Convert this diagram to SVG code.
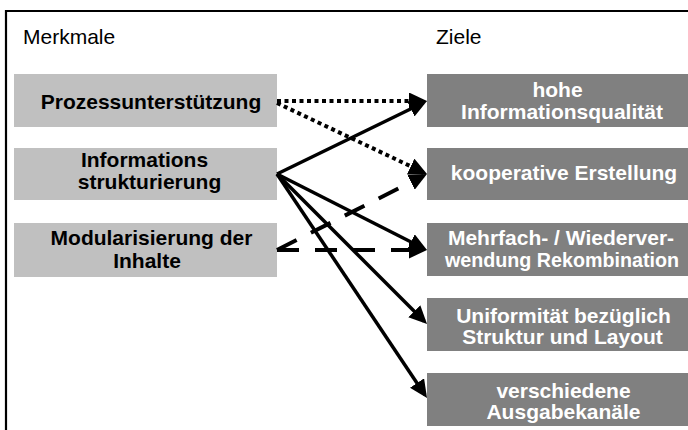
<svg xmlns="http://www.w3.org/2000/svg" width="688" height="430" viewBox="0 0 688 430">
<defs>
<style>
.frame{stroke:#000;stroke-width:2.2;fill:none}
.lbox{fill:#c0c0c0}
.rbox{fill:#808080}
.hdr{font-family:"Liberation Sans",Arial,sans-serif;font-size:21px;fill:#000}
.lt{font-family:"Liberation Sans",Arial,sans-serif;font-size:21px;font-weight:bold;fill:#000;text-anchor:middle}
.rt{font-family:"Liberation Sans",Arial,sans-serif;font-size:21px;font-weight:bold;fill:#fff;text-anchor:middle}
.solid{stroke:#000;stroke-width:3.5;fill:none;marker-end:url(#ah)}
.dot{stroke:#000;stroke-width:4;fill:none;stroke-dasharray:4 3.5;marker-end:url(#ah)}
.dash{stroke:#000;stroke-width:4;fill:none;stroke-dasharray:22 16;marker-end:url(#ah)}
</style>
<marker id="ah" viewBox="0 0 18 17" refX="14" refY="8.5" markerWidth="18" markerHeight="17" markerUnits="userSpaceOnUse" orient="auto">
<path d="M0,0 L18,8.5 L0,17 z" fill="#000"/>
</marker>
</defs>
<rect width="688" height="430" fill="#fff"/>
<path class="frame" d="M6,430 V11 H688"/>
<text class="hdr" x="23" y="44">Merkmale</text>
<text class="hdr" x="436" y="44">Ziele</text>

<g id="m1"><rect class="lbox" x="14" y="74" width="263" height="53"/><text class="lt" x="151" y="109">Prozessunterstützung</text></g>
<g id="m2"><rect class="lbox" x="14" y="148" width="263" height="52"/><text class="lt" x="144.5" y="167">Informations</text><text class="lt" x="149.5" y="189">strukturierung</text></g>
<g id="m3"><rect class="lbox" x="14" y="223" width="263" height="54"/><text class="lt" x="151.5" y="245">Modularisierung der</text><text class="lt" x="147" y="268">Inhalte</text></g>

<g id="z1"><rect class="rbox" x="427" y="74" width="261" height="53"/><text class="rt" x="557.5" y="97">hohe</text><text class="rt" x="562" y="119">Informationsqualität</text></g>
<g id="z2"><rect class="rbox" x="427" y="148" width="261" height="52"/><text class="rt" x="564" y="180">kooperative Erstellung</text></g>
<g id="z3"><rect class="rbox" x="427" y="223" width="261" height="53"/><text class="rt" x="561" y="245">Mehrfach- / Wiederver-</text><text class="rt" x="562" y="267" style="font-size:20px" textLength="234" lengthAdjust="spacingAndGlyphs">wendung Rekombination</text></g>
<g id="z4"><rect class="rbox" x="427" y="298" width="261" height="53"/><text class="rt" x="563.5" y="323">Uniformität bezüglich</text><text class="rt" x="562.5" y="344">Struktur und Layout</text></g>
<g id="z5"><rect class="rbox" x="427" y="373" width="261" height="53"/><text class="rt" x="563.5" y="398">verschiedene</text><text class="rt" x="563.5" y="419">Ausgabekanäle</text></g>

<g id="connectors">
<line class="dot" x1="277" y1="101" x2="423" y2="101"/>
<line class="dot" x1="277" y1="103" x2="423.4" y2="172.3"/>
<line class="solid" x1="277" y1="174" x2="423.4" y2="102.7"/>
<line class="dash" x1="277" y1="250" x2="423.4" y2="175.8"/>
<line class="dash" x1="277" y1="250" x2="423" y2="250"/>
<line class="solid" x1="277" y1="174" x2="423.4" y2="248.2"/>
<line class="solid" x1="277" y1="174" x2="424.2" y2="321.2"/>
<line class="solid" x1="277" y1="174" x2="424.8" y2="394.7"/>
</g>
</svg>
